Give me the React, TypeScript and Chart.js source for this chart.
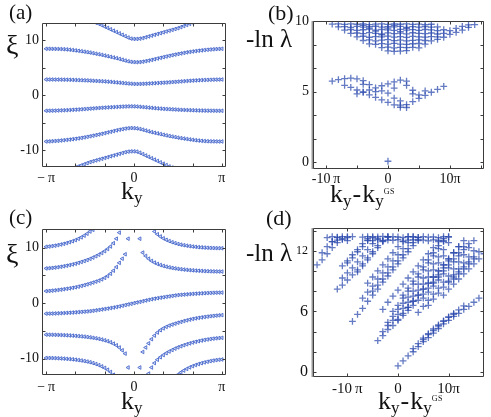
import React, { useEffect, useRef } from 'react';
import { Chart, registerables } from 'chart.js';
Chart.register(...registerables);

type Row = [number, number[]];
const FONT = '"Liberation Serif", "Times New Roman", serif';

// ---------------- (a) xi vs k_y  (x = k index n, k = n*pi/30) ----------------
const A_BAND1: Row = [-13, [13.2, 13.0, 12.75, 12.5, 12.25, 12.0, 11.75, 11.5, 11.25, 11.0, 10.75, 10.5, 10.3, 10.25,
  10.25, 10.3, 10.4, 10.55, 10.7, 10.85, 11.0, 11.15, 11.3, 11.45, 11.6, 11.75, 11.9, 12.05, 12.2, 12.4, 12.6, 12.8, 13.0, 13.2]];
const A_BAND2: Row = [-30, [8.45, 8.45, 8.44, 8.43, 8.42, 8.4, 8.37, 8.33, 8.28, 8.22, 8.15, 8.08, 8.0, 7.92, 7.84, 7.75, 7.65, 7.55, 7.45, 7.34,
  7.22, 7.1, 6.98, 6.86, 6.74, 6.6, 6.45, 6.3, 6.17, 6.07, 6.02,
  6.0, 6.03, 6.1, 6.2, 6.3, 6.42, 6.55, 6.68, 6.8, 6.93, 7.05, 7.17, 7.28, 7.39, 7.5, 7.6, 7.7, 7.8, 7.88, 7.96,
  8.03, 8.1, 8.16, 8.22, 8.27, 8.32, 8.36, 8.4, 8.43, 8.45]];
const A_BAND3: Row = [-30, [2.85, 2.85, 2.85, 2.84, 2.84, 2.83, 2.82, 2.81, 2.8, 2.78, 2.76, 2.74, 2.72, 2.7, 2.68, 2.65, 2.62, 2.59, 2.56, 2.53,
  2.5, 2.46, 2.42, 2.37, 2.32, 2.27, 2.22, 2.17, 2.12, 2.08, 2.05,
  2.04, 2.05, 2.07, 2.09, 2.12, 2.15, 2.18, 2.21, 2.24, 2.27, 2.3, 2.34, 2.38, 2.42, 2.46, 2.5, 2.54, 2.58, 2.62, 2.65,
  2.68, 2.71, 2.74, 2.76, 2.78, 2.8, 2.82, 2.83, 2.84, 2.85]];
const A_BAND4: Row = [-30, [-2.85, -2.84, -2.83, -2.82, -2.8, -2.78, -2.76, -2.74, -2.71, -2.68, -2.65, -2.62, -2.58, -2.54, -2.5,
  -2.46, -2.42, -2.38, -2.34, -2.3, -2.27, -2.24, -2.21, -2.18, -2.15, -2.12, -2.09, -2.07, -2.05, -2.04,
  -2.05, -2.08, -2.12, -2.17, -2.22, -2.27, -2.32, -2.37, -2.42, -2.46, -2.5, -2.53, -2.56, -2.59, -2.62, -2.65,
  -2.68, -2.7, -2.72, -2.74, -2.76, -2.78, -2.8, -2.81, -2.82, -2.83, -2.84, -2.84, -2.85, -2.85, -2.85]];
const A_BAND5: Row = [-30, [-8.45, -8.43, -8.4, -8.36, -8.32, -8.27, -8.22, -8.16, -8.1, -8.03, -7.96, -7.88, -7.8, -7.7, -7.6,
  -7.5, -7.39, -7.28, -7.17, -7.05, -6.93, -6.8, -6.68, -6.55, -6.42, -6.3, -6.2, -6.1, -6.03, -6.0,
  -6.02, -6.07, -6.17, -6.3, -6.45, -6.6, -6.74, -6.86, -6.98, -7.1, -7.22, -7.34, -7.45, -7.55, -7.65, -7.75,
  -7.84, -7.92, -8.0, -8.08, -8.15, -8.22, -8.28, -8.33, -8.37, -8.4, -8.42, -8.43, -8.44, -8.45, -8.45]];
const A_BAND6: Row = [-20, [-13.2, -13.0, -12.8, -12.6, -12.4, -12.2, -12.05, -11.9, -11.75, -11.6, -11.45, -11.3, -11.15, -11.0,
  -10.85, -10.7, -10.55, -10.4, -10.3, -10.25, -10.25, -10.3, -10.5, -10.75, -11.0, -11.25, -11.5, -11.75, -12.0,
  -12.25, -12.5, -12.75, -13.0, -13.2]];
const A_ROWS: Row[] = [A_BAND1, A_BAND2, A_BAND3, A_BAND4, A_BAND5, A_BAND6];

// ---------------- (c) xi vs k_y (spectral flow) ----------------
const C_UP1: Row = [-30, [10.15, 10.2, 10.27, 10.35, 10.45, 10.56, 10.68, 10.82, 10.98, 11.15, 11.35, 11.58, 11.85, 12.15, 12.5, 12.9, 13.2]];
const C_UP2: Row = [-30, [6.25, 6.29, 6.34, 6.4, 6.47, 6.55, 6.64, 6.74, 6.85, 6.97, 7.1, 7.25, 7.41, 7.58, 7.77, 7.97, 8.2, 8.45,
  8.72, 9.02, 9.36, 9.75, 10.2, 10.8, 11.6, 12.7]];
const C_UP3: Row = [-30, [2.16, 2.2, 2.25, 2.3, 2.36, 2.43, 2.5, 2.58, 2.66, 2.75, 2.85, 2.97, 3.1, 3.23, 3.38, 3.53, 3.7, 3.87,
  4.05, 4.28, 4.55, 4.88, 5.3, 5.85, 6.5, 7.25, 8.0, 8.8, 11.6]];
const C_MID: Row = [-30, [-1.9, -1.89, -1.88, -1.86, -1.84, -1.82, -1.79, -1.76, -1.73, -1.7, -1.66, -1.62, -1.58, -1.54, -1.5,
  -1.45, -1.38, -1.3, -1.22, -1.14, -1.06, -0.98, -0.89, -0.8, -0.7, -0.59, -0.47, -0.35, -0.23, -0.12, 0,
  0.12, 0.23, 0.35, 0.47, 0.59, 0.7, 0.8, 0.89, 0.98, 1.06, 1.14, 1.22, 1.3, 1.38, 1.45, 1.5, 1.54, 1.58, 1.62,
  1.66, 1.7, 1.73, 1.76, 1.79, 1.82, 1.84, 1.86, 1.88, 1.89, 1.9]];
const C_LO2: Row = [-30, [-5.68, -5.69, -5.7, -5.71, -5.73, -5.75, -5.77, -5.8, -5.83, -5.86, -5.9, -5.94, -5.99, -6.04, -6.1,
  -6.17, -6.25, -6.34, -6.44, -6.56, -6.7, -6.86, -7.05, -7.3, -7.6, -8.0, -8.5, -9.1, -11.6]];
const C_LO1: Row = [-30, [-9.88, -9.89, -9.9, -9.92, -9.94, -9.97, -10.0, -10.04, -10.08, -10.13, -10.19, -10.26, -10.34, -10.43,
  -10.53, -10.65, -10.8, -10.97, -11.17, -11.4, -11.67, -12.0, -12.4, -12.9]];
const C_RUP1: Row = [7, [12.9, 12.4, 12.0, 11.67, 11.4, 11.17, 10.97, 10.8, 10.65, 10.53, 10.43, 10.34, 10.26, 10.19, 10.13,
  10.08, 10.04, 10.0, 9.97, 9.94, 9.92, 9.9, 9.89, 9.88]];
const C_RUP2: Row = [2, [11.6, 9.1, 8.5, 8.0, 7.6, 7.3, 7.05, 6.86, 6.7, 6.56, 6.44, 6.34, 6.25, 6.17, 6.1, 6.04, 5.99, 5.94,
  5.9, 5.86, 5.83, 5.8, 5.77, 5.75, 5.73, 5.71, 5.7, 5.69, 5.68]];
const C_RLO3: Row = [2, [-11.6, -8.8, -8.0, -7.25, -6.5, -5.85, -5.3, -4.88, -4.55, -4.28, -4.05, -3.87, -3.7, -3.53, -3.38,
  -3.23, -3.1, -2.97, -2.85, -2.75, -2.66, -2.58, -2.5, -2.43, -2.36, -2.3, -2.25, -2.2, -2.16]];
const C_RLO2: Row = [5, [-12.7, -11.6, -10.8, -10.2, -9.75, -9.36, -9.02, -8.72, -8.45, -8.2, -7.97, -7.77, -7.58, -7.41,
  -7.25, -7.1, -6.97, -6.85, -6.74, -6.64, -6.55, -6.47, -6.4, -6.34, -6.29, -6.25]];
const C_RLO1: Row = [14, [-13.2, -12.9, -12.5, -12.15, -11.85, -11.58, -11.35, -11.15, -10.98, -10.82, -10.68, -10.56,
  -10.45, -10.35, -10.27, -10.2, -10.15]];
const C_ROWS: Row[] = [C_UP1, C_UP2, C_UP3, C_MID, C_LO2, C_LO1, C_RUP1, C_RUP2, C_RLO3, C_RLO2, C_RLO1];

// ---------------- (b) -ln(lambda) vs k_y - k_y^GS (x in units of pi) ----------------
const B_TOP_ROWS: Row[] = [
  [-9, [9.78, 9.8, 9.76, 9.79, 9.77, 9.8, 9.75, 9.78, 9.8, 9.76, 9.79, 9.77, 9.8, 9.76, 9.78, 9.75, 9.77]],
  [-8, [9.58, 9.6, 9.55, 9.62, 9.57, 9.6, 9.63, 9.56, 9.6, 9.58, 9.62, 9.55, 9.6, 9.57, 9.61, 9.56, 9.58]],
  [-7, [9.36, 9.4, 9.33, 9.38, 9.42, 9.35, 9.4, 9.37, 9.33, 9.41, 9.36, 9.39, 9.34, 9.4, 9.37, 9.32, 9.38]],
  [-6, [9.12, 9.15, 9.1, 9.18, 9.13, 9.08, 9.16, 9.11, 9.14, 9.09, 9.17, 9.12, 9.1, 9.15, 9.08, 9.13]],
  [-5, [8.88, 8.92, 8.85, 8.9, 8.87, 8.93, 8.86, 8.9, 8.84, 8.91, 8.88, 8.86, 8.9, 8.87]],
  [-4, [8.62, 8.66, 8.6, 8.64, 8.68, 8.61, 8.65, 8.6, 8.63, 8.67, 8.62, 8.6]],
  [-3, [8.38, 8.35, 8.4, 8.36, 8.42, 8.37, 8.34, 8.39, 8.41, 8.36]],
  [-1, [8.12, 8.15, 8.1, 8.14, 8.11, 8.13, 8.1]],
  [0, [7.88, 7.85, 7.87, 7.9]],
  [-4, [9.7, 9.5, 9.28, 9.02, 9.5, 9.7, 9.25, 9.48]],
];
const B_ARM: number[][] = [[8, 8.7], [9, 8.85], [10, 9.05], [11, 9.2], [12, 9.35], [13, 9.55], [14, 9.75],
  [10, 9.32], [11, 9.48], [12, 9.62], [13, 9.72]];
const B_LOW: number[][] = [
  [-9, 5.75], [-8, 5.85], [-7, 5.92], [-6, 5.96], [-5, 5.9], [-4, 5.78],
  [-6, 5.3], [-5, 5.12], [-4, 4.95], [-3, 4.77], [-2, 4.6], [-1, 4.42], [0, 4.25], [1, 4.07], [2, 3.9],
  [-5, 4.85], [-4, 4.98], [-3, 5.12], [-2, 5.27], [-1, 5.42], [0, 5.55], [1, 5.7], [2, 5.82], [3, 5.75],
  [3, 4.08], [4, 4.3], [5, 4.52], [6, 4.74], [7, 4.96], [8, 5.17], [9, 5.38],
  [3, 5.45], [4, 5.1], [5, 4.78], [1, 4.55], [2, 4.35], [0, 4.9], [-1, 5.05], [-3, 5.5], [-2, 5.0],
  [-7, 5.45], [-4, 5.52], [1, 5.25], [4, 4.85], [6, 5.05], [2, 4.05], [3, 3.88],
];
const B_GS: number[][] = [[0, 0.08]];

// ---------------- (d) -ln(lambda) vs k_y - k_y^GS ----------------
const D_ROWS: Row[] = [
  [-16, [10.6, 11.1, 11.7, 12.3, 12.8, 13.2, 13.4]],
  [-15, [11.8, 12.4, 12.9, 13.3]],
  [-14, [13.3, 13.4, 13.35, 13.4, 13.3, 13.4]],
  [-13, [12.9, 13.05, 13.1, 13.0]],
  [-12, [8.2, 8.6, 9.1, 9.6, 10.1, 10.7, 11.3, 11.9, 12.5, 13.0, 13.4]],
  [-11, [9.3, 9.8, 10.3, 10.9, 11.5, 12.1, 12.7, 13.2]],
  [-11, [10.5, 11.0, 11.6, 12.1, 12.7, 13.2]],
  [-10, [10.8, 11.3, 11.9, 12.4, 13.0, 13.4]],
  [-9, [5.0, 5.7, 6.3, 7.0, 7.6, 8.2, 8.9, 9.5, 10.1, 10.7, 11.3, 11.9, 12.5, 13.1]],
  [-7, [7.3, 7.9, 8.5, 9.2, 9.8, 10.4, 11.0, 11.6, 12.2, 12.8, 13.4]],
  [-6, [8.8, 9.4, 10.0, 10.6, 11.2, 11.8, 12.4, 12.9, 13.4]],
  [-8, [9.9, 10.5, 11.1, 11.7, 12.3, 12.9, 13.4]],
  [-5, [8.0, 8.6, 9.2, 9.8, 10.4, 11.0, 11.6, 12.2, 12.8, 13.3]],
  [-7, [13.35, 13.4, 13.3, 13.38, 13.42, 13.33, 13.4, 13.36, 13.3, 13.4, 13.37, 13.32, 13.4, 13.35, 13.38, 13.3, 13.4, 13.36]],
  [-6, [13.05, 13.0, 13.1, 12.98, 13.06, 13.02, 13.1, 12.96, 13.04, 13.08, 13.0, 13.05, 12.98, 13.07, 13.02, 13.0]],
  [-4, [3.1, 3.6, 4.2, 4.6, 5.1, 5.6, 6.1, 6.6, 7.1, 7.7, 8.3, 8.9, 9.6, 10.3, 11.0]],
  [-3, [4.0, 4.6, 5.1, 5.7, 6.3, 6.9, 7.5, 8.1, 8.7, 9.4, 10.1, 10.8, 11.5]],
  [-3, [6.2, 6.9, 7.5, 8.1, 8.7, 9.3, 9.9, 10.5, 11.1, 11.7, 12.3, 12.9]],
  [-2, [4.9, 5.5, 6.2, 6.8, 7.4, 8.0, 8.7, 9.3, 10.0, 10.7, 11.4, 12.1, 12.8]],
  [-1, [6.0, 6.6, 7.3, 8.0, 8.7, 9.4, 10.1, 10.8, 11.5, 12.2, 12.9, 13.4]],
  [0, [5.2, 5.8, 6.4, 7.0, 7.6, 8.2, 8.8, 9.4, 10.0, 10.6, 11.2, 11.8, 12.4, 13.0]],
  [1, [7.6, 8.3, 9.0, 9.7, 10.4, 11.1, 11.8, 12.5, 13.2]],
  [2, [6.4, 7.0, 7.6, 8.2, 8.8, 9.4, 10.0, 10.6, 11.2, 11.8, 12.4]],
  [4, [5.9, 6.5, 7.1, 7.7, 8.3, 8.9, 9.5, 10.2, 10.9, 11.6, 12.3, 13.0]],
  [5, [7.3, 7.9, 8.5, 9.1, 9.7, 10.3, 10.9, 11.5, 12.1, 12.7]],
  [6, [6.6, 7.2, 7.8, 8.4, 9.0, 9.6, 10.2, 10.8, 11.4, 12.0]],
  [7, [8.8, 9.4, 10.0, 10.6, 11.2, 11.8, 12.4]],
  [9, [7.6, 8.2, 8.7, 9.2, 9.7, 10.2, 10.7, 11.2, 11.7]],
  [10, [8.9, 9.4, 9.9, 10.4, 10.9, 11.4, 11.9]],
  [11, [9.2, 9.7, 10.2, 10.7, 11.2]],
  [0, [0.6, 1.1, 1.6, 2.0, 2.5, 3.0, 3.4, 3.85, 4.3, 4.75, 5.1, 5.5, 5.8, 6.2, 6.5, 6.9, 7.3]],
  [3, [2.3, 2.8, 3.2, 3.7, 4.1, 4.55, 5.0, 5.4, 5.7]],
  [5, [3.35, 3.8, 4.25, 4.65, 5.05, 5.45, 5.8, 6.15, 6.55]],
];

// ---------------- axes ----------------
const K_TICKS = [-30, 0, 30];
const K_LABELS = ['\u2212\u2009\u03c0', '0', '\u03c0'];
const K_MINOR = [-30, -20, -10, 0, 10, 20, 30];
const XI_TICKS = [-10, 0, 10];
const XI_LABELS = ['-10', '0', '10'];
const XI_MINOR = [-10, -5, 0, 5, 10];
const DK_TICKS = [-10, 0, 10];
const DK_LABELS = ['-10\u2009\u03c0', '0', '10\u03c0'];
const B_Y_TICKS = [0, 5, 10];
const B_Y_LABELS = ['0', '5', '10'];
const B_X_MINOR = [-10, -5, 0, 5, 10, 15];
const B_Y_MINOR = [0, 5 / 3, 10 / 3, 5, 20 / 3, 25 / 3, 10];
const D_Y_TICKS = [0, 6, 12];
const D_Y_LABELS = ['0', '6', '12'];
const D_Y_MINOR = [0, 2, 4, 6, 8, 10, 12, 14];

type Spec = {
  w: number; h: number;
  area: { l: number; t: number; r: number; b: number };
  rows: Row[]; pairs: number[][];
  kind: 'tri' | 'plus';
  xMin: number; xMax: number; yMin: number; yMax: number;
  xTicks: number[]; xLabels: string[]; xMinor: number[];
  yTicks: number[]; yLabels: string[]; yMinor: number[];
  xSize: number; ySize: (v: number) => number; xPad: number; yPad: number;
  grayLeft: boolean;
};

function makeFrame(xt: number[], yt: number[], grayLeft: boolean) {
  return {
    id: 'frame',
    afterDraw(chart: any) {
      const { ctx, chartArea: a, scales } = chart;
      const L = 3;
      ctx.save();
      const l = Math.round(a.left) + 0.5, t = Math.round(a.top) + 0.5;
      const r = Math.round(a.right) - 0.5, b = Math.round(a.bottom) - 0.5;
      if (grayLeft) {
        ctx.strokeStyle = '#9a9a9a';
        ctx.lineWidth = 2;
        ctx.beginPath();
        ctx.moveTo(l - 1, t - 0.5); ctx.lineTo(l - 1, b + 0.5);
        ctx.stroke();
      }
      ctx.strokeStyle = '#3c3c3c';
      ctx.lineWidth = 1;
      ctx.beginPath();
      ctx.rect(l, t, r - l, b - t);
      for (const v of xt) {
        const p = Math.round(scales.x.getPixelForValue(v)) + 0.5;
        ctx.moveTo(p, b); ctx.lineTo(p, b - L);
        ctx.moveTo(p, t); ctx.lineTo(p, t + L);
      }
      for (const v of yt) {
        const p = Math.round(scales.y.getPixelForValue(v)) + 0.5;
        ctx.moveTo(l, p); ctx.lineTo(l + L, p);
        ctx.moveTo(r, p); ctx.lineTo(r - L, p);
      }
      ctx.stroke();
      ctx.restore();
    },
  };
}

function makeConfig(p: Spec): any {
  const pts = [
    ...p.rows.flatMap(([x0, ys]) => ys.map((y, i) => ({ x: x0 + i, y }))),
    ...p.pairs.map(([x, y]) => ({ x, y })),
  ];
  const tri = p.kind === 'tri';
  return {
    type: 'scatter',
    data: {
      datasets: [{
        data: pts,
        pointStyle: tri ? 'triangle' : 'cross',
        pointRadius: tri ? 2.1 : 3.4,
        pointRotation: tri ? -90 : 0,
        pointBorderColor: tri ? 'rgb(74,106,204)' : 'rgba(40,70,172,0.72)',
        pointBackgroundColor: tri ? 'rgba(150,170,235,0.35)' : 'rgba(40,70,172,0.72)',
        pointBorderWidth: tri ? 0.9 : 1.3,
      }],
    },
    options: {
      responsive: false,
      animation: false,
      events: [],
      layout: { padding: { left: 0, top: p.area.t, right: p.w - p.area.r, bottom: 0 } },
      plugins: { legend: { display: false }, tooltip: { enabled: false } },
      scales: {
        x: {
          type: 'linear', min: p.xMin, max: p.xMax,
          afterFit: (s: any) => { s.height = p.h - p.area.b; },
          afterBuildTicks: (s: any) => { s.ticks = p.xTicks.map((v) => ({ value: v })); },
          grid: { display: false, drawTicks: false },
          border: { display: false },
          ticks: {
            autoSkip: false, maxRotation: 0, padding: p.xPad, color: '#111',
            font: { family: FONT, size: p.xSize },
            callback: (v: number) => { const i = p.xTicks.indexOf(v); return i >= 0 ? p.xLabels[i] : ''; },
          },
        },
        y: {
          type: 'linear', min: p.yMin, max: p.yMax,
          afterFit: (s: any) => { s.width = p.area.l; },
          afterBuildTicks: (s: any) => { s.ticks = p.yTicks.map((v) => ({ value: v })); },
          grid: { display: false, drawTicks: false },
          border: { display: false },
          ticks: {
            autoSkip: false, padding: p.yPad, color: '#111',
            font: (c: any) => ({ family: FONT, size: p.ySize(c && c.tick ? c.tick.value : 0) }),
            callback: (v: number) => { const i = p.yTicks.indexOf(v); return i >= 0 ? p.yLabels[i] : ''; },
          },
        },
      },
    },
    plugins: [makeFrame(p.xMinor, p.yMinor, p.grayLeft)],
  };
}

const SPEC_A: Spec = {
  w: 245, h: 210, area: { l: 42, t: 23, r: 226, b: 167 }, rows: A_ROWS, pairs: [], kind: 'tri',
  xMin: -31.4, xMax: 31.4, yMin: -13.1, yMax: 13.15,
  xTicks: K_TICKS, xLabels: K_LABELS, xMinor: K_MINOR,
  yTicks: XI_TICKS, yLabels: XI_LABELS, yMinor: XI_MINOR,
  xSize: 14, ySize: () => 14, xPad: 3, yPad: 3, grayLeft: false,
};
const SPEC_B: Spec = {
  w: 246, h: 210, area: { l: 68, t: 21, r: 239, b: 169 }, rows: B_TOP_ROWS, pairs: [...B_ARM, ...B_LOW, ...B_GS], kind: 'plus',
  xMin: -12.1, xMax: 15.5, yMin: -0.47, yMax: 10,
  xTicks: DK_TICKS, xLabels: DK_LABELS, xMinor: B_X_MINOR,
  yTicks: B_Y_TICKS, yLabels: B_Y_LABELS, yMinor: B_Y_MINOR,
  xSize: 14, ySize: () => 14, xPad: 2, yPad: 4, grayLeft: true,
};
const SPEC_C: Spec = {
  w: 245, h: 212, area: { l: 42, t: 24, r: 226, b: 170 }, rows: C_ROWS, pairs: [], kind: 'tri',
  xMin: -31.4, xMax: 31.4, yMin: -12.95, yMax: 13.35,
  xTicks: K_TICKS, xLabels: K_LABELS, xMinor: K_MINOR,
  yTicks: XI_TICKS, yLabels: XI_LABELS, yMinor: XI_MINOR,
  xSize: 14, ySize: () => 14, xPad: 4, yPad: 3, grayLeft: false,
};
const SPEC_D: Spec = {
  w: 246, h: 212, area: { l: 68, t: 23, r: 239, b: 172 }, rows: D_ROWS, pairs: [], kind: 'plus',
  xMin: -16.8, xMax: 17.0, yMin: -0.5, yMax: 14.25,
  xTicks: DK_TICKS, xLabels: DK_LABELS, xMinor: DK_TICKS,
  yTicks: D_Y_TICKS, yLabels: D_Y_LABELS, yMinor: D_Y_MINOR,
  xSize: 15, ySize: (v: number) => (v === 12 ? 12 : 16), xPad: 3, yPad: 5, grayLeft: true,
};

const T = ({ x, y, s, children }: { x: number; y: number; s: number; children: any }) => (
  <div style={{ position: 'absolute', left: x, top: y, fontSize: s, lineHeight: 1, fontFamily: FONT, whiteSpace: 'nowrap', color: '#111' }}>
    {children}
  </div>
);

const Sub = ({ children }: { children: any }) => (
  <span style={{ fontSize: 17, position: 'relative', top: 4 }}>{children}</span>
);

const KTitle = () => (<>k<Sub>y</Sub></>);
const DKTitle = () => (
  <>k<Sub>y</Sub><span style={{ margin: '0 1px' }}>-</span>k<Sub>y</Sub>
    <span style={{ fontSize: 8, position: 'relative', top: -8, letterSpacing: 0.5 }}>GS</span></>
);

export default function App() {
  const ra = useRef<HTMLCanvasElement>(null);
  const rb = useRef<HTMLCanvasElement>(null);
  const rc = useRef<HTMLCanvasElement>(null);
  const rd = useRef<HTMLCanvasElement>(null);
  useEffect(() => {
    const charts = [
      new Chart(ra.current as HTMLCanvasElement, makeConfig(SPEC_A)),
      new Chart(rb.current as HTMLCanvasElement, makeConfig(SPEC_B)),
      new Chart(rc.current as HTMLCanvasElement, makeConfig(SPEC_C)),
      new Chart(rd.current as HTMLCanvasElement, makeConfig(SPEC_D)),
    ];
    return () => charts.forEach((c) => c.destroy());
  }, []);
  const cv = (ref: any, x: number, y: number, w: number, h: number) => (
    <canvas ref={ref} width={w} height={h} style={{ position: 'absolute', left: x, top: y, width: w, height: h }} />
  );
  return (
    <div style={{ position: 'absolute', left: 0, top: 0, width: 491, height: 417, background: '#fff', overflow: 'hidden' }}>
      {cv(ra, 0, 0, 245, 210)}
      {cv(rb, 245, 0, 246, 210)}
      {cv(rc, 0, 205, 245, 212)}
      {cv(rd, 245, 205, 246, 212)}
      <T x={9} y={2} s={21}>(a)</T>
      <T x={6} y={31} s={28}>ξ</T>
      <T x={121} y={178} s={26}><KTitle /></T>
      <T x={268} y={2} s={22}>(b)</T>
      <T x={246} y={26} s={25}>-ln λ</T>
      <T x={330} y={181} s={26}><DKTitle /></T>
      <T x={9} y={207} s={21}>(c)</T>
      <T x={6} y={240} s={28}>ξ</T>
      <T x={121} y={388} s={26}><KTitle /></T>
      <T x={266} y={207} s={22}>(d)</T>
      <T x={246} y={240} s={25}>-ln λ</T>
      <T x={378} y={388} s={26}><DKTitle /></T>
    </div>
  );
}
